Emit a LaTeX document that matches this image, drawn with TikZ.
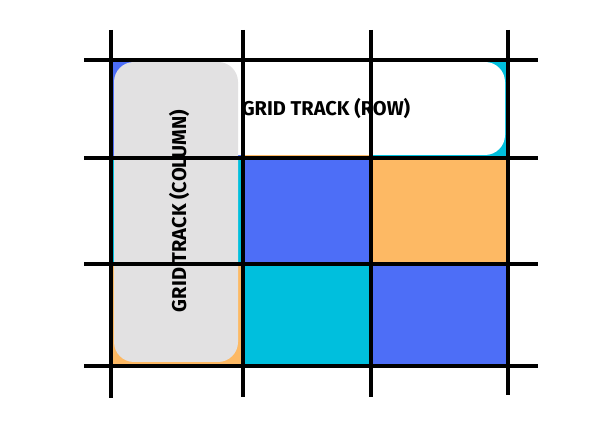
\documentclass[tikz,border=0pt]{standalone}
\usepackage{fontspec}
\setmainfont{Fira Sans}
\definecolor{cblue}{HTML}{4D6EF7}
\definecolor{corange}{HTML}{FDB964}
\definecolor{ccyan}{HTML}{00BFDD}
\definecolor{cgray}{HTML}{E2E1E2}
\tikzset{gl/.style={line width=3.2pt,black},
 lbl/.style={font=\bfseries\fontsize{15}{15}\selectfont, inner sep=0pt}}
\begin{document}
\begin{tikzpicture}[x=0.75pt,y=-0.75pt]
\useasboundingbox (0,0) rectangle (610,427);
% cells
\fill[cblue] (111,60) rectangle (243,158);
\fill[corange] (243,60) rectangle (371,158);
\fill[ccyan] (371,60) rectangle (508,158);
\fill[ccyan] (111,158) rectangle (243,264);
\fill[cblue] (243,158) rectangle (371,264);
\fill[corange] (371,158) rectangle (508,264);
\fill[corange] (111,264) rectangle (243,366);
\fill[ccyan] (243,264) rectangle (371,366);
\fill[cblue] (371,264) rectangle (508,366);
% tracks
\fill[white, rounded corners=15pt] (200,62) rectangle (505,155);
\fill[cgray, rounded corners=15pt] (114,62) rectangle (238,362);
\node[lbl] (row) at (326,109) {GRID TRACK (ROW)};
\node[lbl, rotate=90] (col) at (179,211) {GRID TRACK (COLUMN)};
% grid lines
\draw[gl] (111,30) -- (111,398);
\draw[gl] (243,30) -- (243,397);
\draw[gl] (371,30) -- (371,397);
\draw[gl] (508,30) -- (508,395);
\draw[gl] (84,60) -- (538,60);
\draw[gl] (84,158) -- (538,158);
\draw[gl] (84,264) -- (538,264);
\draw[gl] (84,366) -- (538,366);
\end{tikzpicture}
\end{document}
